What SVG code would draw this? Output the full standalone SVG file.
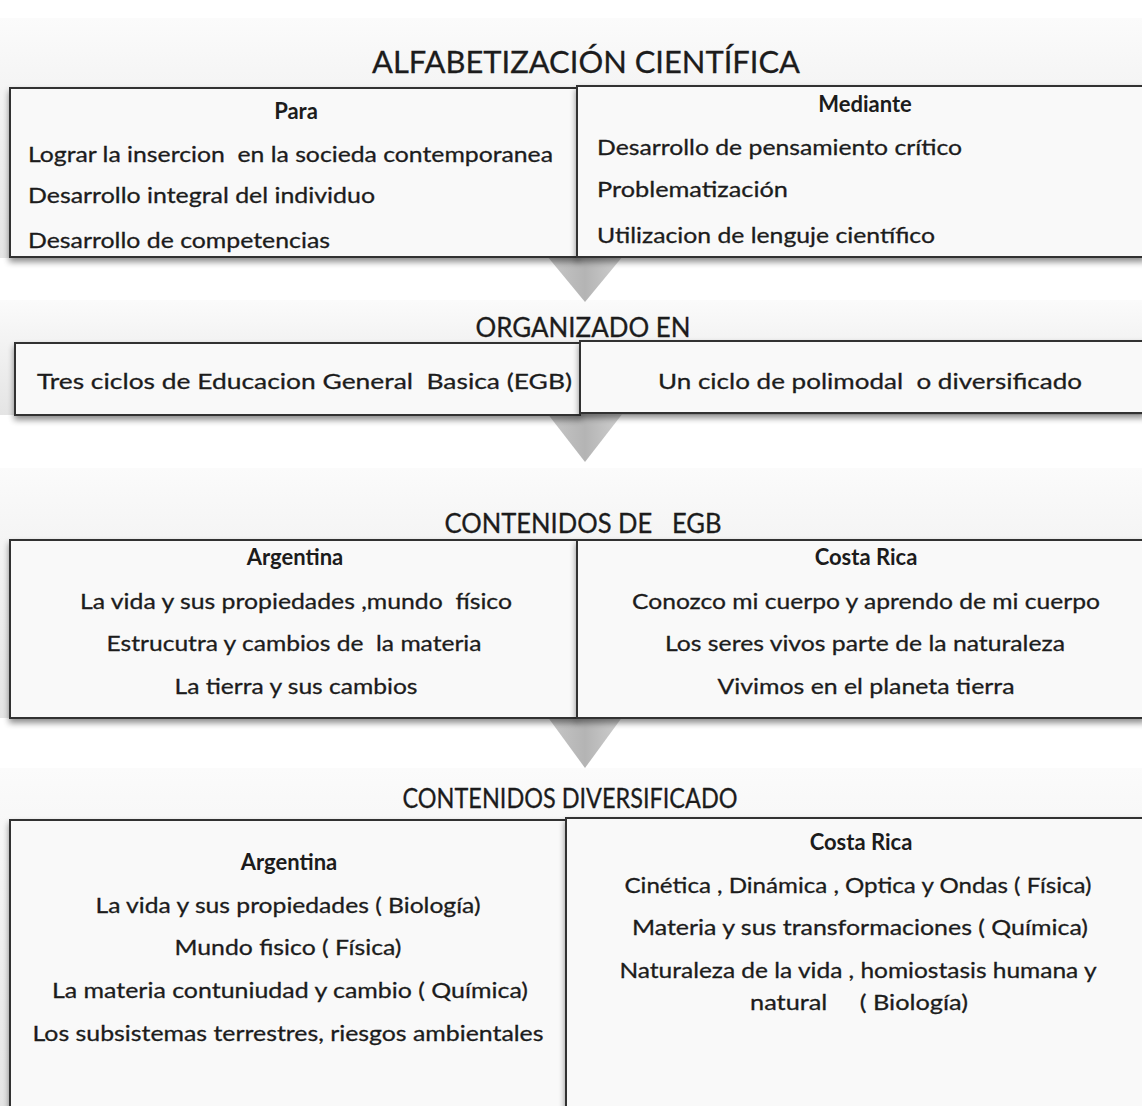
<svg xmlns="http://www.w3.org/2000/svg" width="1142" height="1106" viewBox="0 0 1142 1106">
<style>
text{font-family:Lato,"Liberation Sans",sans-serif;fill:#1c1c1c;stroke:#1c1c1c;stroke-width:0.3;white-space:pre}
.h{font-size:27px;text-anchor:middle}
.t{font-size:31px;text-anchor:middle}
.b{font-size:22px;font-weight:bold;text-anchor:middle;stroke-width:0}
.l{font-size:22px}
.c{font-size:22px;text-anchor:middle}
.box{fill:#f9f9f9;stroke:#333;stroke-width:2;filter:url(#sh)}
.band{fill:url(#bg)}
.arr{fill:url(#ag)}
</style>
<defs>
<linearGradient id="bg" x1="0" y1="0" x2="0" y2="1">
<stop offset="0" stop-color="#fbfbfb"/>
<stop offset="1" stop-color="#e4e4e4"/>
</linearGradient>
<linearGradient id="ag" x1="0" y1="0" x2="1" y2="0">
<stop offset="0" stop-color="#c8c8c8"/>
<stop offset="0.5" stop-color="#b4b4b4"/>
<stop offset="1" stop-color="#d0d0d0"/>
</linearGradient>
<filter id="sh" x="-5%" y="-10%" width="110%" height="130%">
<feGaussianBlur in="SourceAlpha" stdDeviation="3"/>
<feOffset dy="4" result="o"/>
<feComponentTransfer><feFuncA type="linear" slope="0.45"/></feComponentTransfer>
<feMerge><feMergeNode/><feMergeNode in="SourceGraphic"/></feMerge>
</filter>
</defs>
<rect width="1142" height="1106" fill="#ffffff"/>
<g id="bands">
<rect class="band" x="0" y="18" width="1142" height="240"/>
<rect class="band" x="0" y="300" width="1142" height="115"/>
<rect class="band" x="0" y="468" width="1142" height="250"/>
<rect class="band" x="0" y="768" width="1142" height="338"/>
</g>
<g id="connectors">
<polygon class="arr" points="547,256 623,256 585,302"/>
<polygon class="arr" points="547,413 623,413 585,462"/>
<polygon class="arr" points="547,716 623,716 585,768"/>
</g>
<g id="section1">
<g id="para">
<rect class="box" x="10" y="88" width="568" height="169"/>
<text class="b" x="296" y="119">Para</text>
<text class="l" x="28" y="162" textLength="525" lengthAdjust="spacingAndGlyphs">Lograr la insercion  en la socieda contemporanea</text>
<text class="l" x="28" y="203" textLength="347" lengthAdjust="spacingAndGlyphs">Desarrollo integral del individuo</text>
<text class="l" x="28" y="248" textLength="302" lengthAdjust="spacingAndGlyphs">Desarrollo de competencias</text>
</g>
<g id="mediante">
<rect class="box" x="577" y="86" width="568" height="171"/>
<text class="b" x="865" y="112">Mediante</text>
<text class="l" x="597" y="155" textLength="365" lengthAdjust="spacingAndGlyphs">Desarrollo de pensamiento crítico</text>
<text class="l" x="597" y="197" textLength="191" lengthAdjust="spacingAndGlyphs">Problematización</text>
<text class="l" x="597" y="243" textLength="338" lengthAdjust="spacingAndGlyphs">Utilizacion de lenguje científico</text>
</g>
<text class="t" x="586" y="73" textLength="428" lengthAdjust="spacingAndGlyphs">ALFABETIZACIÓN CIENTÍFICA</text>
</g>
<g id="section2">
<g id="egb">
<rect class="box" x="15" y="343" width="565" height="72"/>
<text class="l" x="37" y="389" textLength="535" lengthAdjust="spacingAndGlyphs">Tres ciclos de Educacion General  Basica (EGB)</text>
</g>
<g id="polimodal">
<rect class="box" x="580" y="341" width="565" height="72"/>
<text class="l" x="658" y="389" textLength="424" lengthAdjust="spacingAndGlyphs">Un ciclo de polimodal  o diversificado</text>
</g>
<text class="h" x="583" y="337" textLength="215" lengthAdjust="spacingAndGlyphs">ORGANIZADO EN</text>
</g>
<g id="section3">
<g id="egb-arg">
<rect class="box" x="10" y="540" width="567" height="178"/>
<text class="b" x="295" y="565">Argentina</text>
<text class="c" x="296" y="609" textLength="432" lengthAdjust="spacingAndGlyphs">La vida y sus propiedades ,mundo  físico</text>
<text class="c" x="294" y="651" textLength="375" lengthAdjust="spacingAndGlyphs">Estrucutra y cambios de  la materia</text>
<text class="c" x="296" y="694" textLength="243" lengthAdjust="spacingAndGlyphs">La tierra y sus cambios</text>
</g>
<g id="egb-cr">
<rect class="box" x="577" y="540" width="568" height="178"/>
<text class="b" x="866" y="565">Costa Rica</text>
<text class="c" x="866" y="609" textLength="468" lengthAdjust="spacingAndGlyphs">Conozco mi cuerpo y aprendo de mi cuerpo</text>
<text class="c" x="865" y="651" textLength="400" lengthAdjust="spacingAndGlyphs">Los seres vivos parte de la naturaleza</text>
<text class="c" x="866" y="694" textLength="297" lengthAdjust="spacingAndGlyphs">Vivimos en el planeta tierra</text>
</g>
<text class="h" x="583" y="533" textLength="277" lengthAdjust="spacingAndGlyphs">CONTENIDOS DE   EGB</text>
</g>
<g id="section4">
<g id="div-arg">
<rect class="box" x="10" y="820" width="556" height="300"/>
<text class="b" x="289" y="870">Argentina</text>
<text class="c" x="288" y="913" textLength="385" lengthAdjust="spacingAndGlyphs">La vida y sus propiedades ( Biología)</text>
<text class="c" x="288" y="955" textLength="227" lengthAdjust="spacingAndGlyphs">Mundo fisico ( Física)</text>
<text class="c" x="290" y="998" textLength="476" lengthAdjust="spacingAndGlyphs">La materia contuniudad y cambio ( Química)</text>
<text class="c" x="288" y="1041" textLength="511" lengthAdjust="spacingAndGlyphs">Los subsistemas terrestres, riesgos ambientales</text>
</g>
<g id="div-cr">
<rect class="box" x="566" y="818" width="580" height="300"/>
<text class="b" x="861" y="850">Costa Rica</text>
<text class="c" x="858" y="893" textLength="467" lengthAdjust="spacingAndGlyphs">Cinética , Dinámica , Optica y Ondas ( Física)</text>
<text class="c" x="860" y="935" textLength="456" lengthAdjust="spacingAndGlyphs">Materia y sus transformaciones ( Química)</text>
<text class="c" x="858" y="978" textLength="477" lengthAdjust="spacingAndGlyphs">Naturaleza de la vida , homiostasis humana y</text>
<text class="c" x="859" y="1010" textLength="218" lengthAdjust="spacingAndGlyphs">natural     ( Biología)</text>
</g>
<text class="h" x="570" y="808" textLength="335" lengthAdjust="spacingAndGlyphs">CONTENIDOS DIVERSIFICADO</text>
</g>
</svg>
